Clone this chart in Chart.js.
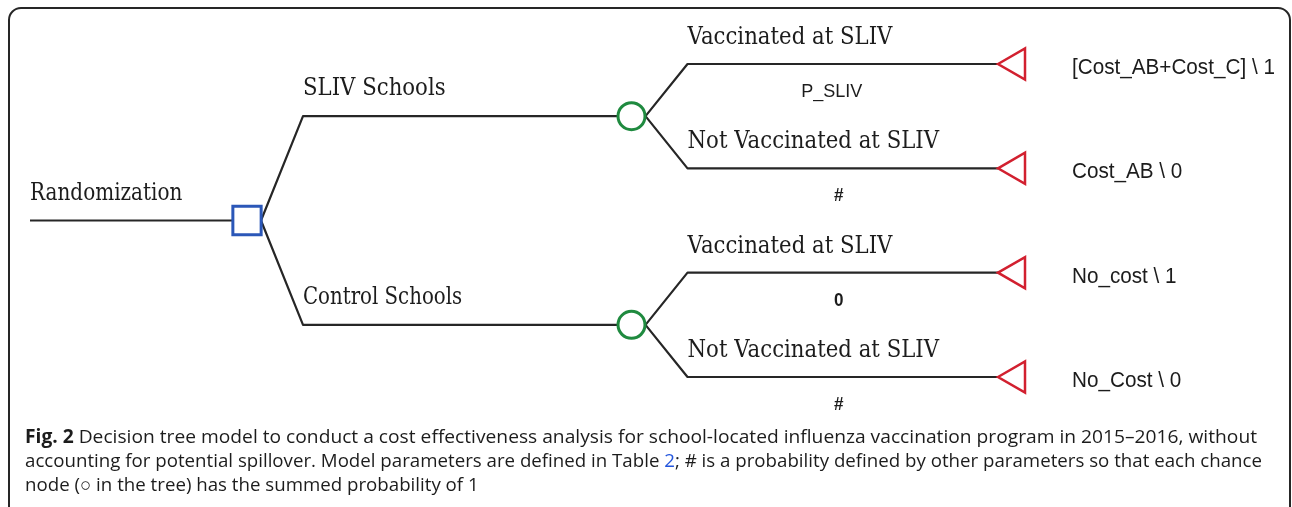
<!DOCTYPE html>
<html>
<head>
<meta charset="utf-8">
<script src="https://cdn.jsdelivr.net/npm/chart.js@4"></script>
<style>
  html, body { margin: 0; padding: 0; background: #fff; }
  #wrap { width: 1292px; height: 507px; }
</style>
</head>
<body>
<div id="wrap"><canvas id="tree" width="1292" height="507"></canvas></div>
<script>
// ==========================
// DATA
// ==========================
const rootLabel = "Randomization";
const armLabels = ["SLIV Schools", "Control Schools"];
const outcomeLabels = [
  ["Vaccinated at SLIV", "Not Vaccinated at SLIV"],
  ["Vaccinated at SLIV", "Not Vaccinated at SLIV"]
];
const outcomeProbs = [["P_SLIV", "#"], ["0", "#"]];
const payoffs = [
  ["[Cost_AB+Cost_C] \\ 1", "Cost_AB \\ 0"],
  ["No_cost \\ 1", "No_Cost \\ 0"]
];
const captionLines = [
  [["Fig. 2", "bold"], [" Decision tree model to conduct a cost effectiveness analysis for school-located influenza vaccination program in 2015\u20132016, without", ""]],
  [["accounting for potential spillover. Model parameters are defined in Table ", ""], ["2", "link"], ["; # is a probability defined by other parameters so that each chance", ""]],
  [["node (\u25CB in the tree) has the summed probability of 1", ""]]
];

// ==========================
// LAYOUT (columns = tree depth, slots = leaf order)
// ==========================
const rootNode = { x: 0, y: 1.5 };
const armNodes = armLabels.map((_, i) => ({ x: 1, y: 2 * i + 0.5 }));
const leafNodes = [];
armLabels.forEach((_, i) => outcomeLabels[i].forEach((_, j) => leafNodes.push({ x: 2, y: 2 * i + j })));

const INK = "#262626";
const SERIF = "'DejaVu Serif'";
const SANS = "'Liberation Sans'";

function fillScaled(ctx, text, x, y, sx) {
  ctx.save();
  ctx.translate(x, y);
  ctx.scale(sx, 1);
  ctx.fillText(text, 0, 0);
  ctx.restore();
}

// ==========================
// EDGES + FRAME (under the nodes)
// ==========================
const edgesPlugin = {
  id: "edges",
  beforeDatasetsDraw(chart) {
    const ctx = chart.ctx;
    const px = v => chart.scales.x.getPixelForValue(v);
    const py = v => chart.scales.y.getPixelForValue(v);

    ctx.save();
    ctx.strokeStyle = INK;
    ctx.lineWidth = 2;
    ctx.beginPath();
    ctx.roundRect(9, 8, 1281, 540, 12);
    ctx.stroke();

    ctx.lineWidth = 2.2;
    ctx.lineJoin = "round";
    // stem into the decision node
    ctx.beginPath();
    ctx.moveTo(px(rootNode.x) - 217, py(rootNode.y));
    ctx.lineTo(px(rootNode.x) - 14, py(rootNode.y));
    ctx.stroke();

    const edge = (from, to, fromHalf, toHalf) => {
      const sx = px(from.x) + fromHalf;
      ctx.beginPath();
      ctx.moveTo(sx, py(from.y));
      ctx.lineTo(sx + 42, py(to.y));
      ctx.lineTo(px(to.x) - toHalf, py(to.y));
      ctx.stroke();
    };
    armNodes.forEach((arm, i) => {
      edge(rootNode, arm, 14, 14);
      leafNodes.slice(2 * i, 2 * i + 2).forEach(leaf => edge(arm, leaf, 14, 18));
    });
    ctx.restore();
  }
};

// ==========================
// LABELS + CAPTION
// ==========================
const labelsPlugin = {
  id: "labels",
  afterDatasetsDraw(chart) {
    const ctx = chart.ctx;
    const px = v => chart.scales.x.getPixelForValue(v);
    const py = v => chart.scales.y.getPixelForValue(v);
    ctx.save();
    ctx.fillStyle = "#1c1c1c";
    ctx.textBaseline = "alphabetic";

    // branch names (serif)
    ctx.font = "25px " + SERIF;
    ctx.textAlign = "left";
    const serifScale = 0.85;
    fillScaled(ctx, rootLabel, px(rootNode.x) - 217, py(rootNode.y) - 20, 0.8);
    armNodes.forEach((arm, i) => {
      fillScaled(ctx, armLabels[i], px(rootNode.x) + 56, py(arm.y) - 21, i ? 0.79 : serifScale);
      outcomeLabels[i].forEach((lab, j) => {
        const leaf = leafNodes[2 * i + j];
        fillScaled(ctx, lab, px(arm.x) + 56, py(leaf.y) - 20, serifScale);
      });
    });

    // probabilities under the outcome branches
    ctx.textAlign = "center";
    ctx.textBaseline = "middle";
    armNodes.forEach((arm, i) => {
      outcomeProbs[i].forEach((p, j) => {
        const leaf = leafNodes[2 * i + j];
        const mid = (px(arm.x) + 56 + px(leaf.x) - 18) / 2 - 4;
        const short = p.length === 1;
        ctx.font = (short ? "bold 18px " : "19px ") + SANS;
        fillScaled(ctx, p, short ? mid : mid - 7, py(leaf.y) + 28, 0.95);
      });
    });

    // payoffs
    ctx.font = "22px " + SANS;
    ctx.textAlign = "left";
    armNodes.forEach((arm, i) => {
      payoffs[i].forEach((p, j) => {
        const leaf = leafNodes[2 * i + j];
        fillScaled(ctx, p, px(leaf.x) + 56, py(leaf.y) + 4, 0.94);
      });
    });

    // caption: first two lines fill the column, last line shares their scale
    ctx.textBaseline = "alphabetic";
    ctx.textAlign = "left";
    const fontFor = kind => (kind === "bold" ? "bold " : "") + "19px 'Open Sans'";
    const targets = [1232, 1237, null];
    const baselines = [443, 467, 491];
    let lastScale = 1;
    captionLines.forEach((line, li) => {
      let w = 0;
      line.forEach(([t, k]) => { ctx.font = fontFor(k); w += ctx.measureText(t).width; });
      const s = targets[li] ? targets[li] / w : lastScale;
      lastScale = s;
      let x = 25;
      line.forEach(([t, k]) => {
        ctx.font = fontFor(k);
        ctx.fillStyle = k === "link" ? "#2255dd" : "#1c1c1c";
        fillScaled(ctx, t, x, baselines[li], s);
        x += ctx.measureText(t).width * s;
      });
    });
    ctx.restore();
  }
};

// ==========================
// CHART
// ==========================
new Chart(document.getElementById("tree"), {
  type: "scatter",
  data: {
    datasets: [
      {
        label: "Decision",
        data: [rootNode],
        pointStyle: "rect",
        pointRadius: 20,
        borderWidth: 3,
        borderColor: "#2b57b8",
        backgroundColor: "#ffffff"
      },
      {
        label: "Chance",
        data: armNodes,
        pointStyle: "circle",
        pointRadius: 13.5,
        borderWidth: 3,
        borderColor: "#1f8a3f",
        backgroundColor: "#ffffff"
      },
      {
        label: "Terminal",
        data: leafNodes,
        pointStyle: "triangle",
        rotation: -90,
        pointRadius: 18,
        borderWidth: 2.5,
        borderColor: "#d2202f",
        backgroundColor: "#ffffff"
      }
    ]
  },
  options: {
    responsive: false,
    animation: false,
    events: [],
    devicePixelRatio: 1,
    layout: { padding: 0, autoPadding: false },
    plugins: { legend: { display: false }, tooltip: { enabled: false } },
    scales: {
      x: { type: "linear", display: false, min: -0.6424, max: 2.7178 },
      y: { type: "linear", display: false, min: -0.6134, max: 4.246, reverse: true }
    }
  },
  plugins: [edgesPlugin, labelsPlugin]
});
</script>
</body>
</html>
